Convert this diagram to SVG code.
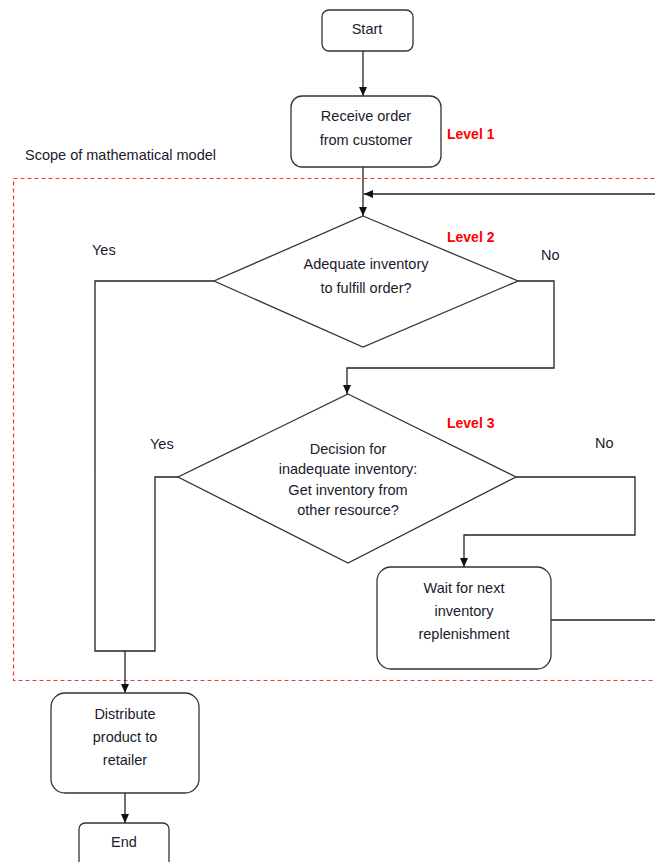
<svg xmlns="http://www.w3.org/2000/svg" width="655" height="862" viewBox="0 0 655 862">
<style>
.box{fill:#fff;stroke:#333;stroke-width:1.3}
.ln{fill:none;stroke:#222;stroke-width:1.3}
.t{font-family:"Liberation Sans",Arial,sans-serif;font-size:14.5px;fill:#1a1a2e;text-anchor:middle}
.lv{font-family:"Liberation Sans",Arial,sans-serif;font-size:14px;font-weight:bold;fill:#ff0000}
.lb{font-family:"Liberation Sans",Arial,sans-serif;font-size:14.5px;fill:#1a1a2e}
.scope{fill:none;stroke:#ff3333;stroke-width:1.2;stroke-dasharray:4 3}
</style>
<defs>
<marker id="ah" markerWidth="10" markerHeight="10" refX="9" refY="5" orient="auto" markerUnits="userSpaceOnUse">
<path d="M0,1 L9,5 L0,9 Z" fill="#111"/>
</marker>
</defs>
<rect class="scope" x="13.5" y="178.5" width="660" height="502"/>
<text class="lb" x="25" y="160">Scope of mathematical model</text>
<g id="connectors">
<line class="ln" x1="363" y1="51" x2="363" y2="96" marker-end="url(#ah)"/>
<line class="ln" x1="363" y1="167" x2="363" y2="216" marker-end="url(#ah)"/>
<line class="ln" x1="655" y1="194" x2="364" y2="194" marker-end="url(#ah)"/>
<polyline class="ln" points="518,281 554,281 554,368 347,368 347,394" marker-end="url(#ah)"/>
<polyline class="ln" points="214,281 95,281 95,651 155,651 155,477 178,477"/>
<line class="ln" x1="125" y1="651" x2="125" y2="693" marker-end="url(#ah)"/>
<polyline class="ln" points="516,477 635,477 635,535 464,535 464,567" marker-end="url(#ah)"/>
<line class="ln" x1="550" y1="620" x2="655" y2="620"/>
<line class="ln" x1="125" y1="793" x2="125" y2="823" marker-end="url(#ah)"/>
</g>
<g id="start">
<rect class="box" x="322" y="10" width="91" height="41" rx="7"/>
<text class="t" x="367" y="34">Start</text>
</g>
<g id="receive">
<rect class="box" x="291" y="96" width="150" height="71" rx="11"/>
<text class="t" x="366" y="121">Receive order</text>
<text class="t" x="366" y="145">from customer</text>
</g>
<text class="lv" x="447" y="139">Level 1</text>
<g id="decision1">
<polygon class="box" points="363,216 518,281 363,347 214,281"/>
<text class="t" x="366" y="269">Adequate inventory</text>
<text class="t" x="366" y="293">to fulfill order?</text>
</g>
<text class="lv" x="447" y="242">Level 2</text>
<text class="lb" x="92" y="255">Yes</text>
<text class="lb" x="541" y="260">No</text>
<g id="decision2">
<polygon class="box" points="348,394 516,477 348,563 178,477"/>
<text class="t" x="348" y="454">Decision for</text>
<text class="t" x="348" y="474">inadequate inventory:</text>
<text class="t" x="348" y="495">Get inventory from</text>
<text class="t" x="348" y="515">other resource?</text>
</g>
<text class="lv" x="447" y="428">Level 3</text>
<text class="lb" x="150" y="449">Yes</text>
<text class="lb" x="595" y="448">No</text>
<g id="wait">
<rect class="box" x="377" y="567" width="174" height="102" rx="14"/>
<text class="t" x="464" y="593">Wait for next</text>
<text class="t" x="464" y="616">inventory</text>
<text class="t" x="464" y="639">replenishment</text>
</g>
<g id="distribute">
<rect class="box" x="51" y="693" width="148" height="100" rx="14"/>
<text class="t" x="125" y="719">Distribute</text>
<text class="t" x="125" y="742">product to</text>
<text class="t" x="125" y="765">retailer</text>
</g>
<g id="end">
<rect class="box" x="79" y="823" width="90" height="45" rx="6"/>
<text class="t" x="124" y="847">End</text>
</g>
</svg>
